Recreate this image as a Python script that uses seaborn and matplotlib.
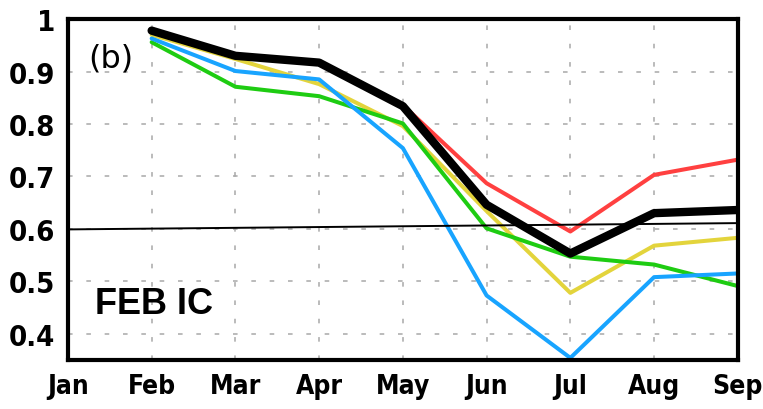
import matplotlib
matplotlib.use("Agg")
import matplotlib.pyplot as plt
import seaborn as sns
import pandas as pd

months = ["Jan", "Feb", "Mar", "Apr", "May", "Jun", "Jul", "Aug", "Sep"]
lead_month = [2, 3, 4, 5, 6, 7, 8, 9]

red_vals = [0.980, 0.930, 0.917, 0.836, 0.687, 0.595, 0.703, 0.732]
yellow_vals = [0.970, 0.924, 0.876, 0.796, 0.634, 0.478, 0.568, 0.583]
green_vals = [0.956, 0.871, 0.853, 0.801, 0.601, 0.547, 0.532, 0.491]
blue_vals = [0.963, 0.901, 0.885, 0.754, 0.473, 0.354, 0.508, 0.515]
black_vals = [0.978, 0.930, 0.917, 0.834, 0.646, 0.553, 0.630, 0.636]

ref_x = [1, 9]
ref_y = [0.599, 0.611]

series = {
    "m1": red_vals,
    "m2": yellow_vals,
    "m3": green_vals,
    "m4": blue_vals,
}
colors = {"m1": "#ff4040", "m2": "#e3d43c", "m3": "#1ecc12", "m4": "#18a4ff"}

df = pd.DataFrame(
    [(k, m, v) for k, vals in series.items() for m, v in zip(lead_month, vals)],
    columns=["model", "month", "acc"],
)
df_mean = pd.DataFrame({"month": lead_month, "acc": black_vals})

sns.set_style("white")
plt.rcParams["font.family"] = ["DejaVu Sans"]

fig = plt.figure(figsize=(7.63, 4.10), dpi=100)
ax = fig.add_axes([0.089, 0.1195, 0.878, 0.8315])

sns.lineplot(data=df, x="month", y="acc", hue="model", palette=colors,
             linewidth=2.9, legend=False, ax=ax, solid_capstyle="round")
sns.lineplot(data=df_mean, x="month", y="acc", color="black",
             linewidth=6.0, ax=ax, solid_capstyle="round")
ax.plot(ref_x, ref_y, color="black", linewidth=1.4)

ax.set_xlim(1, 9)
ax.set_ylim(0.35, 1.0)
ax.set_xticks(range(1, 10))
ax.set_xticklabels(months)
ax.set_yticks([0.4, 0.5, 0.6, 0.7, 0.8, 0.9, 1.0])
ax.set_yticklabels(["0.4", "0.5", "0.6", "0.7", "0.8", "0.9", "1"])
ax.set_xlabel("")
ax.set_ylabel("")

ax.grid(True, color="#a8a8a8", linestyle=(0, (3, 9)), linewidth=1.1)
for s in ax.spines.values():
    s.set_visible(True)
    s.set_color("black")
    s.set_linewidth(3)

ax.tick_params(axis="both", which="major", direction="out", length=7,
               width=2.5, color="black", labelcolor="black", pad=2)
ax.tick_params(axis="y", labelsize=21)
ax.tick_params(axis="x", labelsize=19)
for lbl in ax.get_xticklabels() + ax.get_yticklabels():
    lbl.set_fontweight("bold")
    lbl.set_fontstretch("condensed")

ax.text(0.03, 0.885, "(b)", transform=ax.transAxes, fontsize=23,
        color="black", va="center", ha="left")
ax.text(0.04, 0.165, "FEB IC", transform=ax.transAxes, fontsize=26,
        fontweight="bold", color="black",
        family=["Liberation Sans", "DejaVu Sans"], va="center", ha="left")

fig.savefig("out.png", dpi=100)
